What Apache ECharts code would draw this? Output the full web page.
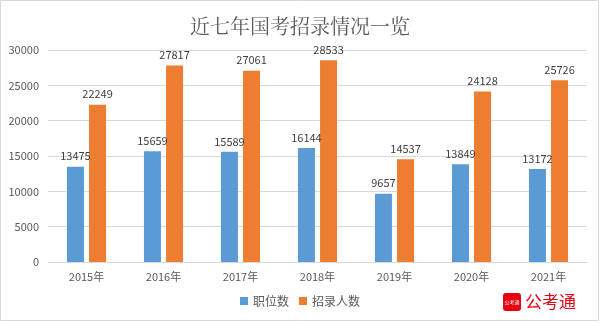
<!DOCTYPE html>
<html><head><meta charset="utf-8">
<script src="https://cdn.jsdelivr.net/npm/echarts@6/dist/echarts.min.js"></script>
<style>html,body{margin:0;padding:0;background:#fff}#c{width:600px;height:323px}</style>
</head><body><div id="c"></div>
<script>
const title = '近七年国考招录情况一览';
const categories = ['2015年','2016年','2017年','2018年','2019年','2020年','2021年'];
const seriesNames = ['职位数','招录人数'];
const positions = [13475, 15659, 15589, 16144, 9657, 13849, 13172];
const recruits = [22249, 27817, 27061, 28533, 14537, 24128, 25726];
const yTicks = [0, 5000, 10000, 15000, 20000, 25000, 30000];
const logoText = '公考通';

const chart = echarts.init(document.getElementById('c'), null, {renderer: 'canvas'});
const font = '"Microsoft YaHei","Noto Sans CJK SC",sans-serif';
const lbl = {show: true, position: 'top', distance: 5, color: '#404040', fontSize: 11, fontFamily: font};
chart.setOption({
  animation: false,
  title: {text: title, left: 'center', top: 11, textStyle: {fontSize: 20, fontWeight: 'normal', color: '#595959', fontFamily: '"Noto Serif CJK SC","Noto Sans CJK SC",serif'}},
  grid: {left: 48, right: 13, top: 50, bottom: 61, containLabel: false},
  legend: {bottom: 11, left: 'center', itemWidth: 8, itemHeight: 8, itemGap: 10, icon: 'rect',
    textStyle: {fontSize: 12, color: '#595959', fontFamily: font}, data: seriesNames},
  xAxis: {type: 'category', data: categories,
    axisLine: {lineStyle: {color: '#d9d9d9'}}, axisTick: {show: false},
    axisLabel: {color: '#595959', fontSize: 11, margin: 9, fontFamily: font}},
  yAxis: {type: 'value', min: yTicks[0], max: yTicks[yTicks.length-1], interval: 5000,
    axisLine: {show: false}, axisTick: {show: false},
    axisLabel: {color: '#595959', fontSize: 11, margin: 9, fontFamily: font, formatter: v => String(v)},
    splitLine: {lineStyle: {color: '#d9d9d9'}}},
  series: [
    {name: seriesNames[0], type: 'bar', data: positions, barWidth: 17, barGap: '30%',
      itemStyle: {color: '#5b9bd5'}, label: lbl},
    {name: seriesNames[1], type: 'bar', data: recruits, barWidth: 17,
      itemStyle: {color: '#ed7d31'}, label: lbl}
  ],
  graphic: [
    {type: 'rect', shape: {x: 0.5, y: 0.5, width: 598, height: 320}, style: {fill: 'none', stroke: '#d9d9d9', lineWidth: 1}, silent: true},
    {type: 'rect', shape: {x: 503, y: 293, width: 18, height: 18, r: 3}, style: {fill: '#e60012'}},
    {type: 'text', x: 512, y: 302, style: {text: logoText, fill: '#fff', fontSize: 5, align: 'center', verticalAlign: 'middle', fontFamily: font}},
    {type: 'text', x: 525, y: 302, style: {text: logoText, fill: '#e60012', fontSize: 17, align: 'left', verticalAlign: 'middle', fontFamily: font}}
  ]
});
</script></body></html>
